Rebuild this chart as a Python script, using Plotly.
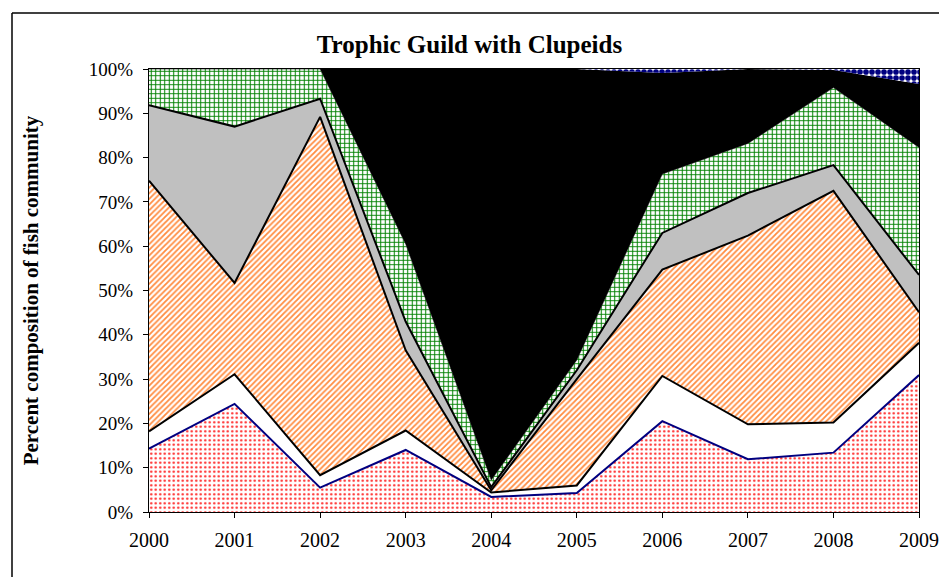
import plotly.graph_objects as go

years = [2000, 2001, 2002, 2003, 2004, 2005, 2006, 2007, 2008, 2009]

# percent composition per guild
guild_red_dots = [14.3, 24.4, 5.5, 14.0, 3.4, 4.3, 20.5, 11.9, 13.4, 30.9]
guild_white = [3.9, 6.7, 2.8, 4.4, 1.0, 1.7, 10.2, 7.9, 6.8, 7.3]
guild_orange = [56.6, 20.6, 80.9, 18.1, 0.5, 24.0, 24.0, 42.6, 52.3, 6.9]
guild_gray = [17.0, 35.3, 4.1, 6.5, 0.7, 2.0, 8.3, 9.6, 5.8, 8.4]
guild_green = [8.2, 13.0, 6.7, 17.5, 1.6, 2.3, 13.3, 11.2, 17.5, 28.8]
guild_clupeids = [0.0, 0.0, 0.0, 39.5, 92.8, 65.7, 22.8, 16.8, 4.0, 14.3]
guild_checker = [0.0, 0.0, 0.0, 0.0, 0.0, 0.0, 0.9, 0.0, 0.2, 3.4]

y_ticks = [0, 10, 20, 30, 40, 50, 60, 70, 80, 90, 100]
y_tick_text = [f"{v}%" for v in y_ticks]

fig = go.Figure()

def add(vals, name, line_color, line_width, fillcolor=None, pattern=None):
    kw = dict(x=years, y=vals, name=name, mode="lines", stackgroup="one",
              groupnorm="percent",
              line=dict(color=line_color, width=line_width))
    if fillcolor is not None:
        kw["fillcolor"] = fillcolor
    if pattern is not None:
        kw["fillpattern"] = pattern
    fig.add_trace(go.Scatter(**kw))

add(guild_red_dots, "Guild 1", "#000080", 2,
    pattern=dict(shape=".", fgcolor="#FF2020", bgcolor="white", size=4.5, solidity=0.22, fillmode="replace"))
add(guild_white, "Guild 2", "black", 2, fillcolor="white")
add(guild_orange, "Guild 3", "black", 2,
    pattern=dict(shape="/", fgcolor="#FF8C40", bgcolor="white", size=4, solidity=0.45, fillmode="replace"))
add(guild_gray, "Guild 4", "black", 2, fillcolor="#C0C0C0")
add(guild_green, "Guild 5", "black", 0.5,
    pattern=dict(shape="+", fgcolor="#008000", bgcolor="white", size=4.5, solidity=0.4, fillmode="replace"))
add(guild_clupeids, "Clupeids", "black", 0, fillcolor="black")
add(guild_checker, "Guild 7", "#000080", 0,
    pattern=dict(shape=".", fgcolor="#000080", bgcolor="white", size=6, solidity=0.7, fillmode="replace"))

W, H = 939, 577
ml, mr, mt, mb = 149, 20, 69, 65
pw = W - ml - mr
ph = H - mt - mb

def px_x(px):
    return (px - ml) / pw

def px_y(py):
    return (H - mb - py) / ph

# outer chart frame (left and top edges visible in the picture)
fig.add_shape(type="line", xref="paper", yref="paper",
              x0=px_x(12), x1=px_x(12), y0=px_y(600), y1=px_y(13),
              line=dict(color="black", width=1.5), layer="below")
fig.add_shape(type="line", xref="paper", yref="paper",
              x0=px_x(12), x1=px_x(960), y0=px_y(13), y1=px_y(13),
              line=dict(color="black", width=1.5), layer="below")

fig.update_layout(
    width=W, height=H, autosize=False,
    margin=dict(l=ml, r=mr, t=mt, b=mb, autoexpand=False),
    paper_bgcolor="white", plot_bgcolor="white",
    showlegend=False,
    font=dict(family="Liberation Serif", size=19, color="black"),
    title=dict(text="<b>Trophic Guild with Clupeids</b>", x=0.5, xanchor="center",
               xref="container", y=(H - 44) / H, yanchor="middle",
               font=dict(family="Liberation Serif", size=25, color="black")),
    xaxis=dict(range=[2000, 2009], tickmode="array", tickvals=years,
               ticktext=[str(y) for y in years], ticks="outside", ticklen=5,
               tickcolor="black", showline=True, linecolor="black", linewidth=1,
               mirror=True, showgrid=False, zeroline=False, automargin=False,
               ticklabelstandoff=5,
               tickfont=dict(family="Liberation Serif", size=20)),
    yaxis=dict(range=[0, 100], tickmode="array", tickvals=y_ticks, ticktext=y_tick_text,
               ticks="outside", ticklen=5, tickcolor="black", showline=True,
               linecolor="black", linewidth=1, mirror=True, showgrid=False, zeroline=False,
               automargin=False, ticklabelstandoff=6,
               tickfont=dict(family="Liberation Serif", size=19),
               title=dict(text="<b>Percent composition of fish community</b>",
                          font=dict(family="Liberation Serif", size=21), standoff=44)),
)

fig.write_html("out.html", config={"displayModeBar": False},
               post_script="document.body.style.margin='0';document.body.style.overflow='hidden';")
